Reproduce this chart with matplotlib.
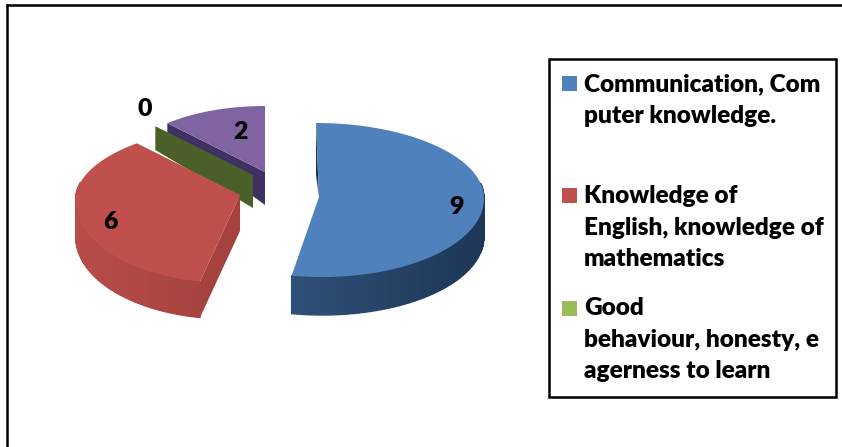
import numpy as np
import matplotlib
matplotlib.use('Agg')
import matplotlib.pyplot as plt
from matplotlib.patches import Polygon, Rectangle

plt.rcParams['font.family'] = ['Lato', 'DejaVu Sans']

values = [9, 6, 0, 2]
value_labels = ['9', '6', '0', '2']
legend_labels = ['Communication, Com\nputer knowledge.',
                 'Knowledge of\nEnglish, knowledge of\nmathematics',
                 'Good\nbehaviour, honesty, e\nagerness to learn']

top_colors = ['#4f81bd', '#c0504d', '#4a6028', '#8064a2']
side_left = ['#3d638f', '#b84c49', '#4a6028', '#3e3060']
side_right = ['#1d3656', '#8a3634', '#4a6028', '#3e3060']

# centre, radii (back, front), depth of each slice, in pixels
centres = [(319, 197), (240, 195), (253, 175), (265, 172)]
rx = [165, 164, 145, 145]
ry_back = [74, 70, 66, 66]
ry_front = [80, 88, 66, 66]
skew = [-3, 10, 0, 0]
depth = [38, 36, 33, 33]


def rim(i, a):
    # a is clockwise from 12 o'clock, in degrees
    a = np.radians(a)
    u, v = np.sin(a), np.cos(a)
    ry = np.where(v > 0, ry_back[i], ry_front[i])
    return centres[i][0] + rx[i] * u + skew[i] * v, centres[i][1] - ry * v


def mix(c1, c2, t):
    c1 = np.array(matplotlib.colors.to_rgb(c1))
    c2 = np.array(matplotlib.colors.to_rgb(c2))
    return c1 + (c2 - c1) * t


fig = plt.figure(figsize=(8.42, 4.47), dpi=100)
ax = fig.add_axes([0, 0, 1, 1])
ax.set_xlim(0, 842)
ax.set_ylim(447, 0)
ax.axis('off')

# outer frame, only left and top are in the picture
ax.plot([7, 7], [447, 5], color='black', lw=1.8)
ax.plot([7, 842], [5, 5], color='black', lw=1.8)

total = sum(values)
starts = np.cumsum([0] + values[:-1]) / total * 360
sweeps = np.array(values) / total * 360

# back slices first
for i in [3, 2, 1, 0]:
    a0, sweep = starts[i], sweeps[i]
    cx, cy = centres[i]
    d = depth[i]
    x0, y0 = rim(i, a0)
    x1, y1 = rim(i, a0 + sweep)

    if values[i] == 0:
        # empty slice only shows as a thin wall
        ax.add_patch(Polygon([(x0, y0), (cx, cy), (cx, cy + d), (x0, y0 + d * 0.72)],
                             facecolor=top_colors[i], edgecolor='none'))
        continue

    # straight walls
    if i == 3:
        ax.add_patch(Polygon([(x0, y0), (cx, cy), (cx, cy + d), (x0, y0 + 10)],
                             facecolor=side_left[i], edgecolor='none'))
        ax.add_patch(Polygon([(x1, y1), (cx, cy), (cx, cy + d), (x1, y1 + d)],
                             facecolor=side_right[i], edgecolor='none'))
    if i == 1:
        ax.add_patch(Polygon([(x0, y0), (cx, cy), (cx, cy + d), (x0, y0 + d)],
                             facecolor='#a5423f', edgecolor='none'))
    if i == 0:
        ax.add_patch(Polygon([(x0, y0), (cx, cy), (x0, cy - 22)],
                             facecolor=side_right[i], edgecolor='none'))

    # curved wall, only the part facing the viewer
    arc = np.linspace(a0, a0 + sweep, 90)
    for a, b in zip(arc[:-1], arc[1:]):
        mid = (a + b) / 2 % 360
        if i == 3 or mid < 80 or mid > 280:
            continue
        xa, ya = rim(i, a)
        xb, yb = rim(i, b)
        xs = rim(i, mid)[0]
        t = (cx + rx[i] - xs) / (2 * rx[i])
        if i == 0:
            t = 1 - t
        col = mix(side_left[i], side_right[i], 1 - t if i == 1 else t)
        ax.add_patch(Polygon([(xa, ya), (xb, yb), (xb, yb + d), (xa, ya + d)],
                             facecolor=col, edgecolor=col, lw=1.0))

    # top face
    arc = np.linspace(a0, a0 + sweep, 120)
    xs, ys = rim(i, arc)
    pts = [(cx, cy)] + list(zip(xs, ys))
    ax.add_patch(Polygon(pts, facecolor=top_colors[i], edgecolor='none'))

# value labels
label_x = [456, 110, 145, 240]
label_y = [207, 222, 109, 132]
for i in range(len(values)):
    ax.text(label_x[i], label_y[i], value_labels[i], fontsize=18, fontweight='heavy',
            ha='center', va='center', color='black')

# legend box
ax.add_patch(Rectangle((549, 59), 287, 338, facecolor='white', edgecolor='black', lw=1.8))
swatch_y = [76, 188, 301]
text_y = [73, 185, 297]
for i in range(3):
    ax.add_patch(Rectangle((562, swatch_y[i]), 15, 15, facecolor=top_colors[i] if i < 2 else '#9bbb59',
                           edgecolor='none'))
    ax.text(584, text_y[i], legend_labels[i], fontsize=17.6, fontweight='heavy', va='top',
            ha='left', color='black', linespacing=1.53)

fig.savefig('out.png', dpi=100)
